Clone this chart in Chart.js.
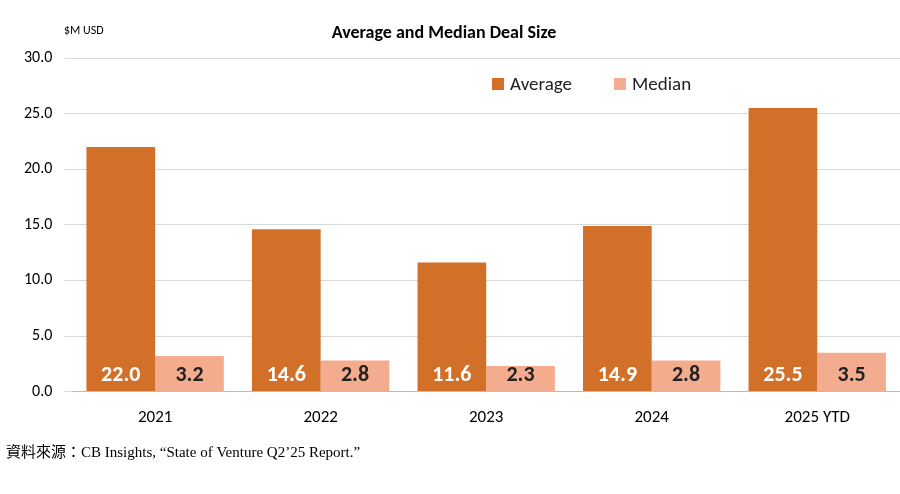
<!DOCTYPE html>
<html><head><meta charset="utf-8">
<script src="https://cdn.jsdelivr.net/npm/chart.js@4"></script>
<style>body{margin:0;background:#fff}#w{width:900px;height:494px;position:relative}</style>
</head><body><div id="w"><canvas id="c" width="900" height="494"></canvas></div>
<script>
const categories=["2021","2022","2023","2024","2025 YTD"];
const averageValues=[22.0,14.6,11.6,14.9,25.5];
const medianValues=[3.2,2.8,2.3,2.8,3.5];
const yTicks=[0,5,10,15,20,25,30];
const FONT="Calibri, Carlito, 'Open Sans', 'Noto Sans', sans-serif";
const deco={id:'deco',afterDatasetsDraw(ch){
 const c=ch.ctx;c.save();
 c.fillStyle='#000';c.font='bold 18px '+FONT;c.textAlign='center';c.textBaseline='middle';
 c.fillText('Average and Median Deal Size',444,33);
 c.font='12px '+FONT;c.textAlign='left';c.fillText('$M USD',64,31);
 c.font='19px '+FONT;
 c.fillStyle='#D2702A';c.fillRect(492,78,12,12);c.fillStyle='#222';c.fillText('Average',510,85);
 c.fillStyle='#F4AC8E';c.fillRect(614,78,12,12);c.fillStyle='#222';c.fillText('Median',632,85);
 c.font="15px 'Liberation Serif','Noto Sans CJK TC',serif";c.fillStyle='#000';
 c.fillText('資料來源：CB Insights, “State of Venture Q2’25 Report.”',6,453);
 c.font='bold 22px '+FONT;c.textAlign='center';
 ch.data.datasets.forEach((ds,i)=>{ch.getDatasetMeta(i).data.forEach((b,j)=>{
  c.fillStyle=i===0?'#fff':'#222';c.fillText(ds.data[j].toFixed(1),b.x,375);});});
 c.restore();}};
new Chart(document.getElementById('c'),{type:'bar',
 data:{labels:categories,datasets:[
  {label:'Average',data:averageValues,backgroundColor:'#D2702A'},
  {label:'Median',data:medianValues,backgroundColor:'#F4AC8E'}]},
 options:{responsive:false,animation:false,
  layout:{padding:{top:58,bottom:58,left:12,right:0}},
  plugins:{legend:{display:false},tooltip:{enabled:false}},
  datasets:{bar:{categoryPercentage:0.83,barPercentage:1}},
  scales:{
   x:{grid:{display:false},border:{color:'#bbb'},ticks:{color:'#000',font:{size:17,family:FONT},padding:8}},
   y:{min:0,max:30,afterBuildTicks(a){a.ticks=yTicks.map(v=>({value:v}));},
      grid:{color:'#d9d9d9'},border:{display:false},
      ticks:{color:'#000',font:{size:16,family:FONT},padding:12,callback:v=>v.toFixed(1)}}}},
 plugins:[deco]});
</script></body></html>
